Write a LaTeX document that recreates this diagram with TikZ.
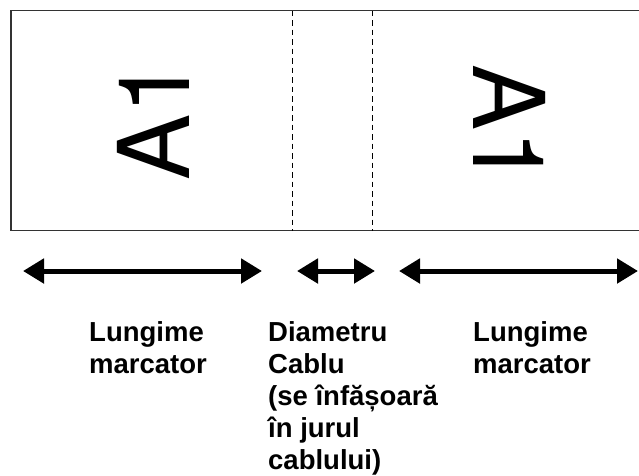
\documentclass[tikz,border=0pt]{standalone}
\usepackage{fontspec}
\setmainfont{Liberation Sans}
\newfontfamily\tagfont{TeX Gyre Heros}
\usetikzlibrary{arrows.meta, positioning}

\begin{document}
\begin{tikzpicture}[x=1pt, y=-1pt,
			tag/.style={inner sep=0pt, font=\tagfont\fontsize{99}{99}\selectfont},
			lbl/.style={inner sep=0pt, anchor=north west, align=left,
				font=\bfseries\fontsize{27.5}{32}\selectfont},
			edge/.style={line width=1.4pt, draw=black!80},
			cut/.style={line width=0.9pt, dash pattern=on 5.5pt off 4pt},
			darr/.style={{Triangle[length=21pt, width=24pt]}-{Triangle[length=21pt, width=24pt]}, line width=5pt}
			]
			\useasboundingbox (0,0) rectangle (639,475);
			% marker outline, open on the right
			\draw[edge] (639,10.5) -- (11,10.5) -- (11,230.5) -- (639,230.5);
			\draw[cut] (292,10.5) -- (292,230.5);
			\draw[cut] (372,10.5) -- (372,230.5);
			
			\node[tag, rotate=90] (tagleft) at (153,120) {A1};
			\node[tag, rotate=-90] (tagright) at (510,125) {A1};
			
			\coordinate (l1) at (23,271);
			\coordinate (l2) at (262,271);
			\coordinate (m1) at (297,271);
			\coordinate (m2) at (375,271);
			\coordinate (r1) at (399,271);
			\coordinate (r2) at (638,271);
			\draw[darr] (l1) -- (l2);
			\draw[darr] (m1) -- (m2);
			\draw[darr] (r1) -- (r2);
			
			\node[lbl] (lenleft) at (89,321) {Lungime\\marcator};
			\node[lbl] (diam) at (268,321) {Diametru\\Cablu\\(se înfășoară\\în jurul\\cablului)};
			\node[lbl] (lenright) at (473,321) {Lungime\\marcator};
\end{tikzpicture}
\end{document}
